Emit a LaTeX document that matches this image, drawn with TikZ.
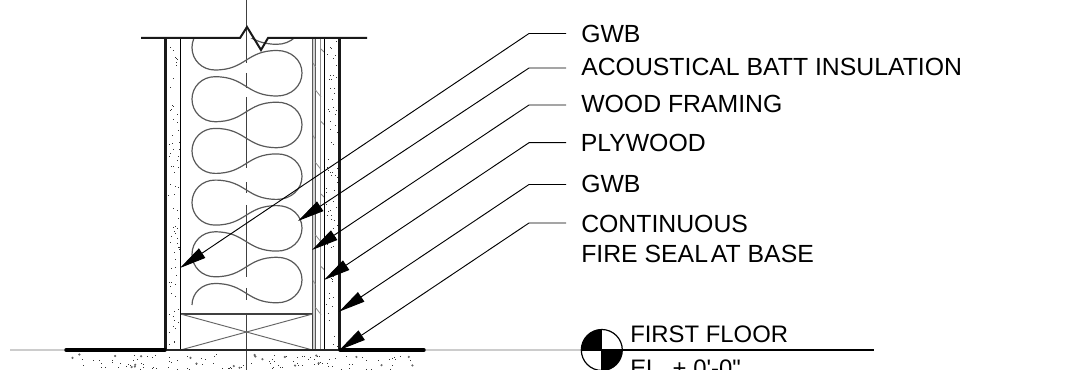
\documentclass[tikz,border=0pt]{standalone}
\usepackage{fontspec}
\usetikzlibrary{arrows.meta}
\newfontfamily\lblfont{Liberation Sans}
\tikzset{
  px/.style={x=0.75pt,y=-0.75pt},
  heavy/.style={line width=2.6pt,black},
  wallthick/.style={line width=2.2pt,black!90},
  cutline/.style={line width=1.5pt,black!90},
  thinwall/.style={line width=1.1pt,black},
  batt/.style={line width=0.9pt,black!65},
  centre/.style={line width=0.9pt,black!75},
  hatch/.style={line width=0.6pt,black!45},
  leader/.style={line width=0.7pt,black},
  arrowleader/.style={leader,-{Triangle[length=20pt,width=8.5pt]}},
  lbl/.style={anchor=base west,inner sep=0pt,font=\lblfont\fontsize{18.6}{22}\selectfont},
  lvl/.style={anchor=base west,inner sep=0pt,font=\lblfont\fontsize{17.9}{22}\selectfont},
  floorlight/.style={line width=1.3pt,black!20},
  dot/.style={fill=black!80}
}
\begin{document}
\begin{tikzpicture}[px]
\useasboundingbox (0,0) rectangle (1072,370);
\clip (0,0) rectangle (1072,370);
% stipple in the boards
\pgfmathsetseed{4217}
\foreach \i in {1,...,75}{
  \pgfmathsetmacro\pa{168+rnd*11}\pgfmathsetmacro\pb{40+rnd*308}
  \fill[dot] (\pa,\pb) rectangle ++(1,1);
  \pgfmathsetmacro\pa{326+rnd*12}\pgfmathsetmacro\pb{40+rnd*308}
  \fill[dot] (\pa,\pb) rectangle ++(1,1);
}
% stipple in the slab
\foreach \i in {1,...,110}{
  \pgfmathsetmacro\pa{72+rnd*342}\pgfmathsetmacro\pb{354+rnd*16}
  \fill[dot] (\pa,\pb) rectangle ++(1,1);
}
\foreach \i in {1,...,22}{
  \pgfmathsetmacro\pa{72+rnd*342}\pgfmathsetmacro\pb{354+rnd*14}
  \fill[black!60] (\pa,\pb) circle[radius=1.2];
}
% centre line
\foreach \a/\b in {0/63,73/88,97/168,182/193,205/277,288/300,313/370}
  \draw[centre] (246.5,\a) -- (246.5,\b);
% insulation
\begin{scope}
\clip (182,38.5) rectangle (312,350);
\draw[batt] (277,44.3) .. controls (246,44.3) and (246,25) .. (215,25);
\draw[batt] (277,-1.2) .. controls (291,-1.2) and (302,9) .. (302,21.3) .. controls (302,34) and (291,44.3) .. (277,44.3);
\foreach \k in {0,...,4}{
  \pgfmathsetmacro\d{51.7*\k}
  \draw[batt] (215,25+\d) .. controls (202,25+\d) and (192,35+\d) .. (192,47.5+\d)
    .. controls (192,60+\d) and (202,70+\d) .. (215,70+\d)
    .. controls (246,70+\d) and (246,50.5+\d) .. (277,50.5+\d)
    .. controls (291,50.5+\d) and (302,60+\d) .. (302,73+\d)
    .. controls (302,86+\d) and (291,96+\d) .. (277,96+\d)
    .. controls (246,96+\d) and (246,76.7+\d) .. (215,76.7+\d);
}
\draw[batt] (215,283.5) .. controls (202,283.5) and (192,293) .. (192,305);
\end{scope}
% plywood and framing
\fill[black!18] (312.5,38) rectangle (315.5,350);
\draw[line width=0.8pt,black!65] (312.5,38) -- (312.5,350);
\draw[line width=0.8pt,black!65] (315.5,38) -- (315.5,350);
\draw[line width=0.8pt,black!45] (320.9,38) -- (320.9,350);
\foreach \k in {0,...,3}{
  \pgfmathsetmacro\d{72.5*\k}
  \draw[hatch] (321,49+\d) -- (324,52+\d);
  \draw[hatch] (313,63+\d) -- (315.5,67+\d);
  \draw[hatch] (315.5,90+\d) -- (321,97+\d);
}
% plate
\draw[line width=1.1pt,black!75] (180.5,314) rectangle (312.5,350);
\draw[line width=0.7pt,black!60] (180.5,314) -- (312.5,350);
\draw[line width=0.7pt,black!60] (180.5,350) -- (312.5,314);
% walls
\draw[thinwall] (180.5,38) -- (180.5,350);
\draw[thinwall] (324.3,38) -- (324.3,350);
\draw[wallthick] (165.5,38) -- (165.5,350);
\draw[wallthick] (339.5,38) -- (339.5,350);
% top break line
\draw[cutline,line join=miter] (141,38) -- (240,38) -- (247,27) -- (261,50) -- (268,38) -- (367,38);
% floor
\draw[floorlight] (10,350) -- (65,350);
\draw[floorlight] (425,350) -- (582,350);
\draw[line width=1.2pt,black!85] (165,350) -- (340,350);
\draw[heavy,line cap=round] (66,350) -- (165,350);
\draw[heavy,line cap=round] (340,350) -- (424,350);
% labels
\node[lbl] (g1) at (581,42.5) {GWB};
\node[lbl] (ac) at (581,75.7) {ACOUSTICAL BATT INSULATION};
\node[lbl] (wf) at (581,112.7) {WOOD FRAMING};
\node[lbl] (pl) at (580.5,151.2) {PLYWOOD};
\node[lbl] (g2) at (581,192.3) {GWB};
\node[lbl] (cf) at (581,232.3) {CONTINUOUS};
\node[lbl] (fs) at (581,262.3) {FIRE SEAL\hspace{-3pt} AT BASE};
% leaders
\coordinate (e1) at (566,33.5);   \coordinate (k1) at (529,33.5);   \coordinate (t1) at (180,268);
\coordinate (e2) at (566,68);     \coordinate (k2) at (529,68);     \coordinate (t2) at (298,221);
\coordinate (e3) at (566,105);    \coordinate (k3) at (529,105);    \coordinate (t3) at (312,250);
\coordinate (e4) at (566,142.7);  \coordinate (k4) at (529,142.7);  \coordinate (t4) at (324,280);
\coordinate (e5) at (566,184.5);  \coordinate (k5) at (529,184.5);  \coordinate (t5) at (339,311.7);
\coordinate (e6) at (566,223);    \coordinate (k6) at (529,223);    \coordinate (t6) at (339.5,350);
\foreach \n in {1,...,6}
  \draw[arrowleader] (e\n) -- (k\n) -- (t\n);
% level marker
\coordinate (lv) at (601.8,350);
\fill (lv) -- ++(-20.5,0) arc[start angle=180,end angle=270,radius=20.5] -- cycle;
\fill (lv) -- ++(20.5,0) arc[start angle=0,end angle=90,radius=20.5] -- cycle;
\draw[line width=0.9pt] (lv) circle[radius=20.5];
\draw[line width=0.9pt] (lv) -- ++(-20.5,0);
\draw[line width=0.9pt] (lv) -- ++(0,20.5);
\coordinate (lvend) at (874,350);
\draw[line width=1.2pt] (lv) -- (lvend);
\node[lvl] (ff) at (630,342.7) {FIRST FLOOR};
\node[lvl] (el) at (630,376.5) {EL. + 0'-0"};
\end{tikzpicture}
\end{document}
